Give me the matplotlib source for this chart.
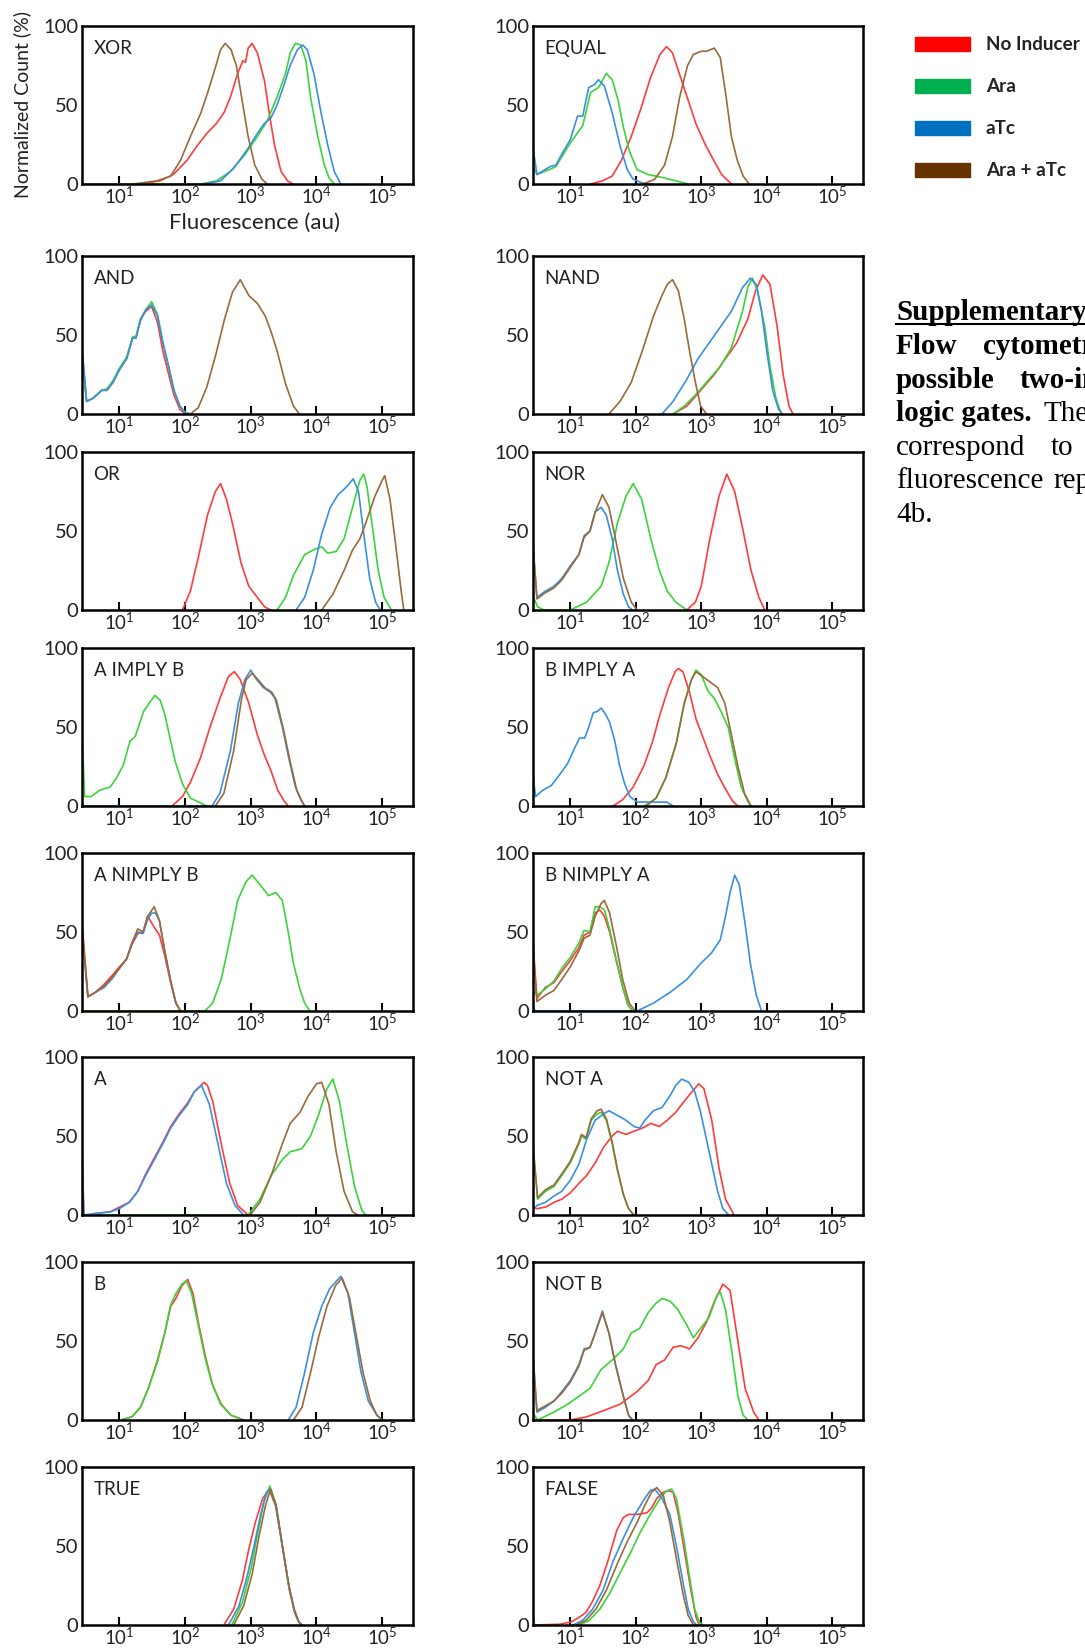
"""
Flow cytometry histograms for the 16 two-input logic gates.

Each panel shows four normalized count histograms (No Inducer, Ara, aTc,
Ara + aTc) against fluorescence on a log axis. Curve points are stored as
(log10 fluorescence, normalized count %) pairs read off the original figure.
"""

import matplotlib
matplotlib.use("Agg")
import matplotlib.pyplot as plt
from matplotlib.patches import Rectangle
from matplotlib.lines import Line2D
from matplotlib.ticker import FixedLocator, NullLocator

plt.rcParams["font.family"] = ["Lato", "DejaVu Sans"]
plt.rcParams["mathtext.fontset"] = "custom"
plt.rcParams["mathtext.rm"] = "Lato"
plt.rcParams["mathtext.it"] = "Lato:italic"
plt.rcParams["mathtext.bf"] = "Lato:bold"


# Data
SERIES_LABELS = ["No Inducer", "Ara", "aTc", "Ara + aTc"]
GATE_NAMES = ["XOR", "EQUAL", "AND", "NAND", "OR", "NOR",
              "A IMPLY B", "B IMPLY A", "A NIMPLY B", "B NIMPLY A",
              "A", "NOT A", "B", "NOT B", "TRUE", "FALSE"]
X_TICK_LABELS = [r"$\mathregular{10^{1}}$", r"$\mathregular{10^{2}}$", r"$\mathregular{10^{3}}$",
                 r"$\mathregular{10^{4}}$", r"$\mathregular{10^{5}}$"]
Y_TICK_LABELS = ["0", "50", "100"]

# (log10 fluorescence, count %)
XOR_NONE = [(1.32, 0), (1.62, 2), (1.82, 6), (2.03, 15), (2.18, 24), (2.33, 32), (2.47, 38),
            (2.59, 45), (2.69, 55), (2.80, 70), (2.88, 78), (2.92, 77), (2.96, 86), (3.02, 89),
            (3.10, 83), (3.21, 65), (3.28, 45), (3.36, 25), (3.46, 8), (3.56, 2), (3.64, 0)]
XOR_ARA = [(0.42, 2), (0.46, 0), (2.24, 0), (2.48, 2), (2.69, 8), (2.90, 18), (3.10, 30), (3.25, 40),
           (3.40, 55), (3.53, 70), (3.60, 83), (3.68, 89), (3.76, 88), (3.84, 78), (3.91, 55),
           (4.02, 30), (4.12, 12), (4.19, 4), (4.27, 0)]
XOR_ATC = [(2.29, 0), (2.54, 2), (2.74, 10), (2.95, 22), (3.10, 32), (3.20, 38), (3.31, 42),
           (3.40, 50), (3.50, 62), (3.60, 75), (3.71, 85), (3.79, 88), (3.86, 85), (3.96, 70),
           (4.07, 45), (4.17, 25), (4.27, 8), (4.37, 0)]
XOR_BOTH = [(1.21, 0), (1.57, 2), (1.78, 5), (1.93, 15), (2.08, 30), (2.24, 45), (2.36, 60),
            (2.47, 75), (2.54, 85), (2.61, 89), (2.70, 85), (2.78, 75), (2.86, 55), (2.96, 30),
            (3.06, 12), (3.17, 3), (3.25, 0)]

EQUAL_NONE = [(1.31, 0), (1.49, 2), (1.64, 5), (1.78, 15), (1.93, 30), (2.08, 48), (2.23, 68),
              (2.37, 82), (2.47, 87), (2.56, 83), (2.68, 68), (2.80, 53), (2.92, 38), (3.06, 25),
              (3.19, 15), (3.31, 6), (3.46, 0)]
EQUAL_ARA = [(0.42, 12), (0.49, 6), (0.61, 8), (0.78, 11), (1.00, 26), (1.19, 37), (1.31, 58),
             (1.43, 61), (1.55, 70), (1.64, 66), (1.73, 53), (1.81, 36), (1.90, 21), (2.02, 9),
             (2.19, 6), (2.42, 4), (2.66, 1.5), (2.80, 0)]
EQUAL_ATC = [(0.42, 26), (0.49, 6), (0.61, 9), (0.69, 11), (0.78, 12), (0.87, 19), (1.00, 28),
             (1.11, 43), (1.19, 43), (1.28, 61), (1.37, 63), (1.43, 66), (1.52, 62), (1.64, 45),
             (1.76, 24), (1.87, 9), (1.96, 3), (2.11, 0.5), (2.26, 0)]
EQUAL_BOTH = [(2.11, 0), (2.29, 3), (2.44, 12), (2.56, 30), (2.67, 55), (2.79, 75), (2.88, 82),
              (3.00, 84), (3.08, 84), (3.20, 86), (3.29, 80), (3.38, 55), (3.46, 30), (3.55, 15),
              (3.64, 5), (3.73, 0)]

AND_NONE = [(0.42, 45), (0.50, 8), (0.60, 10), (0.73, 15), (0.81, 15), (0.90, 20), (1.00, 28),
            (1.11, 35), (1.20, 48), (1.25, 48), (1.32, 60), (1.40, 65), (1.49, 68), (1.58, 58),
            (1.66, 40), (1.75, 25), (1.83, 12), (1.92, 3), (2.00, 0)]
AND_ARA = [(0.42, 40), (0.50, 8), (0.60, 10), (0.73, 15), (0.81, 16), (0.90, 21), (1.00, 29),
           (1.11, 36), (1.20, 49), (1.25, 49), (1.32, 60), (1.40, 66), (1.49, 71), (1.58, 63),
           (1.66, 46), (1.75, 30), (1.83, 15), (1.92, 5), (2.00, 1), (2.08, 0)]
AND_ATC = [(0.42, 47), (0.50, 8), (0.60, 10), (0.73, 15), (0.81, 15), (0.90, 20), (1.00, 28),
           (1.11, 35), (1.20, 48), (1.25, 48), (1.32, 59), (1.40, 66), (1.49, 69), (1.58, 62),
           (1.66, 45), (1.75, 30), (1.83, 15), (1.92, 5), (2.00, 1), (2.08, 0)]
AND_BOTH = [(2.08, 0), (2.20, 4), (2.33, 17), (2.47, 38), (2.60, 60), (2.72, 77), (2.84, 85),
            (2.97, 75), (3.10, 70), (3.22, 62), (3.31, 52), (3.40, 40), (3.53, 19), (3.65, 5),
            (3.74, 0)]

NAND_NONE = [(2.57, 0), (2.78, 5), (2.99, 15), (3.20, 25), (3.37, 35), (3.54, 45), (3.71, 60),
             (3.83, 78), (3.94, 88), (4.05, 82), (4.16, 55), (4.25, 25), (4.34, 5), (4.40, 0)]
NAND_ARA = [(2.57, 0), (2.74, 5), (2.91, 12), (3.12, 22), (3.29, 30), (3.46, 42), (3.63, 65),
            (3.71, 80), (3.78, 86), (3.86, 78), (3.97, 55), (4.05, 30), (4.14, 10), (4.22, 0)]
NAND_ATC = [(2.40, 0), (2.57, 8), (2.78, 22), (2.95, 35), (3.12, 45), (3.29, 55), (3.46, 65),
            (3.63, 80), (3.75, 86), (3.84, 82), (3.92, 65), (4.00, 40), (4.09, 15), (4.18, 3),
            (4.24, 0)]
NAND_BOTH = [(1.59, 0), (1.76, 8), (1.93, 20), (2.10, 40), (2.27, 62), (2.40, 75), (2.48, 82),
             (2.56, 85), (2.65, 78), (2.74, 60), (2.82, 40), (2.91, 20), (2.99, 5), (3.08, 0)]

OR_NONE = [(1.96, 0), (2.08, 12), (2.21, 35), (2.34, 60), (2.46, 75), (2.54, 80), (2.63, 70),
           (2.72, 55), (2.85, 30), (2.97, 15), (3.10, 8), (3.21, 2), (3.30, 0)]
OR_ARA = [(3.40, 0), (3.53, 8), (3.65, 22), (3.82, 35), (3.95, 38), (4.08, 40), (4.17, 36),
          (4.30, 37), (4.42, 45), (4.55, 65), (4.66, 82), (4.72, 86), (4.77, 78), (4.86, 50),
          (4.94, 25), (5.03, 8), (5.14, 0)]
OR_ATC = [(3.69, 0), (3.82, 8), (3.95, 25), (4.08, 48), (4.21, 65), (4.33, 73), (4.46, 78),
          (4.56, 83), (4.64, 75), (4.73, 45), (4.81, 20), (4.90, 5), (4.97, 0)]
OR_BOTH = [(4.08, 0), (4.25, 10), (4.42, 25), (4.55, 38), (4.66, 45), (4.75, 55), (4.89, 72),
           (5.00, 82), (5.04, 85), (5.12, 70), (5.21, 40), (5.29, 12), (5.33, 0)]

NOR_NONE = [(2.78, 0), (2.91, 5), (3.00, 15), (3.13, 45), (3.27, 72), (3.39, 86), (3.51, 75),
            (3.64, 50), (3.76, 25), (3.88, 8), (3.97, 0)]
NOR_ARA = [(0.42, 10), (0.50, 2), (0.60, 0), (1.00, 0), (1.25, 5), (1.47, 15), (1.59, 30),
           (1.72, 55), (1.85, 72), (1.96, 80), (2.09, 70), (2.23, 45), (2.36, 25), (2.48, 12),
           (2.61, 5), (2.78, 0)]
NOR_ATC = [(0.42, 45), (0.49, 8), (0.62, 12), (0.75, 15), (0.87, 20), (1.00, 28), (1.13, 35),
           (1.21, 47), (1.30, 50), (1.38, 62), (1.47, 65), (1.55, 60), (1.64, 45), (1.72, 25),
           (1.81, 10), (1.89, 2), (1.95, 0)]
NOR_BOTH = [(0.42, 48), (0.49, 7), (0.62, 11), (0.75, 14), (0.87, 19), (1.00, 27), (1.13, 35),
            (1.21, 46), (1.30, 50), (1.38, 62), (1.49, 73), (1.59, 65), (1.69, 45), (1.81, 20),
            (1.93, 5), (2.02, 0)]

AIB_NONE = [(1.80, 0), (1.96, 6), (2.08, 15), (2.23, 30), (2.38, 50), (2.53, 68), (2.66, 82),
            (2.75, 85), (2.84, 80), (2.97, 65), (3.10, 45), (3.20, 33), (3.31, 22), (3.41, 10),
            (3.51, 3), (3.57, 0)]
AIB_ARA = [(0.42, 58), (0.47, 6), (0.57, 6), (0.70, 10), (0.86, 12), (0.96, 18), (1.06, 26),
           (1.16, 41), (1.24, 44), (1.37, 60), (1.47, 66), (1.54, 70), (1.62, 67), (1.69, 58),
           (1.77, 43), (1.85, 28), (1.96, 14), (2.08, 5), (2.23, 2), (2.33, 0)]
AIB_ATC = [(0.42, 4), (0.46, 0), (2.41, 0), (2.53, 8), (2.69, 35), (2.81, 65), (2.91, 80),
           (3.00, 86), (3.09, 80), (3.19, 75), (3.30, 72), (3.37, 68), (3.48, 50), (3.58, 30),
           (3.68, 12), (3.76, 4), (3.82, 0)]
AIB_BOTH = [(2.46, 0), (2.59, 8), (2.74, 35), (2.86, 68), (2.93, 80), (3.02, 84), (3.11, 80),
            (3.21, 75), (3.32, 72), (3.39, 67), (3.50, 48), (3.60, 28), (3.70, 10), (3.78, 3),
            (3.82, 0)]

BIA_NONE = [(1.65, 0), (1.80, 4), (1.96, 12), (2.12, 25), (2.25, 40), (2.37, 58), (2.50, 75),
            (2.60, 85), (2.65, 87), (2.72, 85), (2.82, 72), (2.92, 55), (3.03, 43), (3.13, 32),
            (3.25, 20), (3.38, 10), (3.48, 3), (3.56, 0)]
BIA_ARA = [(2.13, 0), (2.31, 5), (2.46, 18), (2.62, 40), (2.74, 65), (2.85, 80), (2.92, 86),
           (3.00, 83), (3.10, 73), (3.20, 68), (3.30, 60), (3.41, 50), (3.51, 30), (3.61, 12),
           (3.71, 3), (3.76, 0)]
BIA_ATC = [(0.42, 22), (0.47, 6), (0.58, 10), (0.71, 13), (0.84, 20), (0.96, 27), (1.07, 37),
           (1.14, 43), (1.22, 43), (1.29, 51), (1.35, 59), (1.42, 60), (1.47, 62), (1.54, 58),
           (1.60, 53), (1.68, 41), (1.75, 26), (1.83, 14), (1.91, 6), (2.02, 2.5), (2.22, 2.5),
           (2.47, 2.5), (2.57, 0)]
BIA_BOTH = [(2.16, 0), (2.31, 5), (2.46, 18), (2.62, 40), (2.74, 65), (2.85, 80), (2.92, 85),
            (3.02, 82), (3.15, 78), (3.25, 75), (3.36, 65), (3.46, 45), (3.56, 25), (3.66, 8),
            (3.76, 0)]

ANB_NONE = [(0.42, 62), (0.52, 9), (0.64, 12), (0.77, 17), (0.90, 23), (1.00, 28), (1.11, 33),
            (1.19, 42), (1.28, 49), (1.36, 50), (1.43, 60), (1.53, 53), (1.61, 48), (1.69, 35),
            (1.78, 18), (1.86, 5), (1.93, 0)]
ANB_ARA = [(0.42, 5), (0.45, 0), (2.30, 0), (2.42, 5), (2.55, 20), (2.68, 45), (2.80, 70),
           (2.93, 82), (3.02, 86), (3.14, 80), (3.27, 73), (3.38, 75), (3.48, 70), (3.57, 50),
           (3.65, 30), (3.74, 15), (3.82, 5), (3.90, 0)]
ANB_ATC = [(0.42, 55), (0.52, 9), (0.64, 12), (0.77, 15), (0.90, 21), (1.00, 27), (1.11, 33),
           (1.19, 43), (1.28, 50), (1.36, 49), (1.43, 58), (1.49, 62), (1.55, 62), (1.61, 57),
           (1.69, 38), (1.78, 19), (1.86, 5), (1.93, 0)]
ANB_BOTH = [(0.42, 58), (0.52, 9), (0.64, 12), (0.77, 16), (0.90, 22), (1.00, 27), (1.11, 33),
            (1.19, 43), (1.28, 52), (1.36, 50), (1.43, 60), (1.53, 66), (1.61, 57), (1.69, 38),
            (1.78, 19), (1.86, 5), (1.93, 0)]

BNA_NONE = [(0.42, 50), (0.49, 8), (0.62, 15), (0.75, 18), (0.87, 25), (1.00, 32), (1.13, 40),
            (1.21, 48), (1.30, 50), (1.38, 62), (1.45, 64), (1.52, 60), (1.60, 50), (1.70, 32),
            (1.80, 15), (1.88, 4), (1.95, 0)]
BNA_ARA = [(0.42, 15), (0.49, 10), (0.62, 14), (0.75, 19), (0.87, 27), (1.00, 34), (1.13, 43),
           (1.21, 51), (1.30, 50), (1.38, 66), (1.45, 66), (1.52, 64), (1.60, 52), (1.70, 33),
           (1.80, 15), (1.88, 4), (1.95, 0)]
BNA_ATC = [(0.42, 5), (0.46, 0), (2.02, 0), (2.27, 5), (2.53, 12), (2.78, 20), (2.99, 30),
           (3.16, 37), (3.29, 45), (3.37, 60), (3.44, 75), (3.51, 86), (3.58, 80), (3.67, 55),
           (3.75, 30), (3.84, 10), (3.92, 0)]
BNA_BOTH = [(0.42, 45), (0.49, 6), (0.62, 10), (0.75, 13), (0.87, 20), (1.00, 28), (1.13, 38),
            (1.21, 46), (1.30, 48), (1.38, 60), (1.47, 68), (1.52, 70), (1.60, 62), (1.70, 42),
            (1.80, 20), (1.90, 5), (1.99, 0)]

A_NONE = [(0.42, 58), (0.46, 0), (0.55, 0), (0.64, 1), (0.86, 2), (1.00, 5), (1.15, 8),
          (1.28, 15), (1.40, 26), (1.53, 36), (1.66, 46), (1.78, 56), (1.91, 64), (2.04, 71),
          (2.14, 78), (2.29, 84), (2.34, 82), (2.42, 72), (2.55, 45), (2.68, 20), (2.80, 6),
          (2.96, 0)]
A_ARA = [(0.42, 10), (0.45, 0), (2.96, 0), (3.14, 10), (3.31, 25), (3.48, 35), (3.60, 40),
         (3.78, 42), (3.91, 50), (4.03, 63), (4.16, 80), (4.25, 86), (4.35, 72), (4.46, 45),
         (4.58, 18), (4.69, 3), (4.75, 0)]
A_ATC = [(0.42, 35), (0.46, 0), (0.64, 1), (0.86, 2), (1.00, 4), (1.15, 8), (1.28, 15),
         (1.40, 25), (1.53, 35), (1.66, 45), (1.78, 55), (1.91, 63), (2.04, 70), (2.14, 78),
         (2.25, 82), (2.37, 70), (2.50, 45), (2.63, 20), (2.76, 6), (2.89, 0)]
A_BOTH = [(2.99, 0), (3.14, 8), (3.31, 25), (3.48, 45), (3.60, 58), (3.75, 65), (3.87, 75),
          (4.00, 83), (4.08, 84), (4.19, 70), (4.30, 40), (4.42, 15), (4.55, 2), (4.63, 0)]

NA_NONE = [(0.42, 5), (0.49, 4), (0.62, 5), (0.75, 8), (0.87, 10), (1.00, 14), (1.13, 20),
           (1.25, 25), (1.38, 33), (1.51, 43), (1.64, 50), (1.72, 53), (1.85, 51), (1.97, 53),
           (2.10, 55), (2.23, 58), (2.36, 56), (2.48, 60), (2.61, 65), (2.74, 72), (2.86, 78),
           (2.96, 83), (3.04, 80), (3.16, 60), (3.27, 30), (3.37, 10), (3.50, 0)]
NA_ARA = [(0.42, 50), (0.50, 10), (0.62, 15), (0.75, 18), (0.87, 25), (1.00, 33), (1.13, 45),
          (1.17, 50), (1.24, 48), (1.32, 60), (1.41, 64), (1.47, 65), (1.55, 60), (1.64, 45),
          (1.72, 28), (1.81, 13), (1.89, 4), (1.97, 0)]
NA_ATC = [(0.42, 3), (0.49, 6), (0.62, 8), (0.75, 12), (0.87, 15), (1.00, 22), (1.13, 32),
          (1.25, 48), (1.38, 60), (1.51, 64), (1.59, 66), (1.72, 63), (1.85, 60), (1.97, 56),
          (2.06, 55), (2.14, 60), (2.27, 66), (2.40, 68), (2.53, 76), (2.61, 82), (2.70, 86),
          (2.81, 84), (2.90, 78), (2.99, 65), (3.12, 40), (3.25, 15), (3.33, 4), (3.42, 0)]
NA_BOTH = [(0.42, 48), (0.50, 11), (0.62, 16), (0.75, 19), (0.87, 26), (1.00, 34), (1.13, 46),
           (1.17, 51), (1.24, 49), (1.32, 61), (1.41, 66), (1.47, 67), (1.55, 61), (1.64, 46),
           (1.72, 29), (1.81, 13), (1.89, 4), (1.97, 0)]

B_NONE = [(1.03, 0), (1.19, 2), (1.32, 8), (1.44, 20), (1.58, 38), (1.69, 55), (1.78, 72),
          (1.86, 77), (1.95, 85), (2.04, 89), (2.12, 80), (2.21, 60), (2.31, 40), (2.42, 22),
          (2.55, 10), (2.70, 3), (2.89, 0)]
B_ARA = [(1.03, 0), (1.19, 2), (1.32, 8), (1.44, 20), (1.58, 37), (1.69, 55), (1.78, 73),
         (1.86, 80), (1.95, 86), (2.02, 88), (2.10, 80), (2.20, 60), (2.30, 40), (2.41, 23),
         (2.54, 10), (2.70, 3), (2.89, 0)]
B_ATC = [(3.57, 0), (3.69, 8), (3.82, 30), (3.95, 55), (4.08, 72), (4.20, 83), (4.37, 91),
         (4.48, 80), (4.58, 55), (4.68, 30), (4.79, 12), (4.92, 3), (5.00, 0)]
B_BOTH = [(3.65, 0), (3.78, 8), (3.91, 30), (4.03, 52), (4.16, 72), (4.29, 85), (4.39, 90),
          (4.50, 78), (4.60, 55), (4.71, 30), (4.82, 12), (4.92, 3), (5.00, 0)]

NB_NONE = [(0.42, 3), (0.46, 0), (1.00, 0), (1.25, 2), (1.51, 6), (1.76, 10), (2.02, 18),
           (2.19, 25), (2.31, 35), (2.44, 38), (2.57, 46), (2.69, 47), (2.82, 45), (2.95, 52),
           (3.08, 62), (3.20, 75), (3.33, 86), (3.44, 82), (3.54, 55), (3.67, 20), (3.80, 5),
           (3.88, 0)]
NB_ARA = [(0.42, 5), (0.50, 0), (0.75, 5), (0.96, 10), (1.13, 15), (1.30, 20), (1.47, 32),
          (1.64, 38), (1.81, 45), (1.93, 55), (2.06, 58), (2.19, 68), (2.31, 74), (2.40, 77),
          (2.53, 75), (2.64, 70), (2.78, 60), (2.88, 52), (2.99, 58), (3.12, 65), (3.24, 79),
          (3.29, 81), (3.37, 70), (3.46, 45), (3.56, 15), (3.64, 3), (3.71, 0)]
NB_ATC = [(0.42, 48), (0.49, 5), (0.62, 8), (0.75, 12), (0.87, 18), (1.00, 25), (1.13, 35),
          (1.21, 45), (1.30, 46), (1.38, 55), (1.49, 69), (1.59, 55), (1.69, 35), (1.81, 15),
          (1.89, 3), (1.95, 0)]
NB_BOTH = [(0.42, 45), (0.49, 6), (0.62, 9), (0.75, 12), (0.87, 17), (1.00, 24), (1.13, 34),
           (1.21, 44), (1.30, 46), (1.38, 55), (1.49, 68), (1.59, 55), (1.69, 35), (1.81, 15),
           (1.89, 3), (1.95, 0)]

TRUE_NONE = [(2.59, 0), (2.74, 10), (2.87, 28), (2.97, 48), (3.07, 65), (3.18, 80), (3.28, 86),
             (3.38, 75), (3.48, 50), (3.58, 25), (3.66, 10), (3.73, 2), (3.78, 0)]
TRUE_ARA = [(2.71, 0), (2.87, 14), (3.00, 35), (3.10, 57), (3.20, 78), (3.29, 88), (3.38, 77),
            (3.48, 50), (3.58, 24), (3.66, 9), (3.73, 2), (3.78, 0)]
TRUE_ATC = [(2.66, 0), (2.82, 12), (2.94, 30), (3.05, 50), (3.15, 70), (3.24, 84), (3.29, 86),
            (3.38, 76), (3.48, 50), (3.58, 25), (3.66, 10), (3.73, 2), (3.78, 0)]
TRUE_BOTH = [(2.74, 0), (2.89, 12), (3.02, 32), (3.12, 55), (3.22, 75), (3.30, 86), (3.39, 75),
             (3.49, 48), (3.59, 22), (3.67, 8), (3.73, 2), (3.78, 0)]

FALSE_NONE = [(0.42, 13), (0.45, 0), (0.84, 0.5), (1.02, 2), (1.14, 5), (1.24, 8), (1.34, 15),
              (1.45, 25), (1.57, 40), (1.71, 60), (1.81, 68), (1.89, 70), (2.02, 70), (2.17, 71),
              (2.24, 74), (2.32, 80), (2.42, 84), (2.50, 85), (2.57, 84), (2.65, 70), (2.75, 45),
              (2.85, 20), (2.92, 5), (2.97, 0)]
FALSE_ARA = [(1.14, 0), (1.29, 3), (1.45, 10), (1.60, 20), (1.76, 33), (1.91, 45), (2.06, 58),
             (2.22, 70), (2.37, 80), (2.47, 85), (2.55, 86), (2.62, 80), (2.73, 55), (2.83, 28),
             (2.90, 10), (2.97, 2), (3.02, 0)]
FALSE_ATC = [(1.04, 0), (1.19, 3), (1.34, 10), (1.50, 22), (1.65, 40), (1.81, 55), (1.96, 68),
             (2.12, 79), (2.22, 85), (2.29, 86), (2.40, 80), (2.52, 70), (2.62, 50), (2.73, 25),
             (2.80, 10), (2.88, 2), (2.93, 0)]
FALSE_BOTH = [(1.09, 0), (1.24, 3), (1.39, 10), (1.55, 22), (1.71, 38), (1.86, 52), (2.02, 65),
              (2.14, 76), (2.24, 84), (2.32, 87), (2.42, 82), (2.52, 65), (2.62, 42), (2.73, 18),
              (2.80, 6), (2.88, 0)]

# table of curves per gate, in legend order
CURVES = {
    "XOR": (XOR_NONE, XOR_ARA, XOR_ATC, XOR_BOTH),
    "EQUAL": (EQUAL_NONE, EQUAL_ARA, EQUAL_ATC, EQUAL_BOTH),
    "AND": (AND_NONE, AND_ARA, AND_ATC, AND_BOTH),
    "NAND": (NAND_NONE, NAND_ARA, NAND_ATC, NAND_BOTH),
    "OR": (OR_NONE, OR_ARA, OR_ATC, OR_BOTH),
    "NOR": (NOR_NONE, NOR_ARA, NOR_ATC, NOR_BOTH),
    "A IMPLY B": (AIB_NONE, AIB_ARA, AIB_ATC, AIB_BOTH),
    "B IMPLY A": (BIA_NONE, BIA_ARA, BIA_ATC, BIA_BOTH),
    "A NIMPLY B": (ANB_NONE, ANB_ARA, ANB_ATC, ANB_BOTH),
    "B NIMPLY A": (BNA_NONE, BNA_ARA, BNA_ATC, BNA_BOTH),
    "A": (A_NONE, A_ARA, A_ATC, A_BOTH),
    "NOT A": (NA_NONE, NA_ARA, NA_ATC, NA_BOTH),
    "B": (B_NONE, B_ARA, B_ATC, B_BOTH),
    "NOT B": (NB_NONE, NB_ARA, NB_ATC, NB_BOTH),
    "TRUE": (TRUE_NONE, TRUE_ARA, TRUE_ATC, TRUE_BOTH),
    "FALSE": (FALSE_NONE, FALSE_ARA, FALSE_ATC, FALSE_BOTH),
}

# caption words, one list per line (bold flag, word)
CAPTION_LINES = [
    [(True, "Supplementary")],
    [(True, "Flow"), (True, "cytometry")],
    [(True, "possible"), (True, "two-input")],
    [(True, "logic gates."), (False, "The")],
    [(False, "correspond"), (False, "to")],
    [(False, "fluorescence"), (False, "reported")],
    [(False, "4b.")],
]


# Styling / layout (pixels on the 1085 x 1648 canvas)
W, H, DPI = 1085, 1648, 100
CURVE_COLORS = ["#ff3b3b", "#3ad43a", "#3a8fe0", "#9a6a3a"]
LEGEND_COLORS = ["#ff0000", "#00b050", "#0070c0", "#663300"]
COL_X = [(82, 413), (533, 863)]
ROW_TOPS = [26, 256, 452, 648, 853, 1057, 1262, 1467]
PANEL_H = 158
LOG_XLIM = (0.43, 5.47)
TEXT_COLOR = "#222222"
CAPTION_X = [[896], [896, 983], [896, 1020], [896, 1044], [896, 1051], [896, 1053], [896]]
CAPTION_BASELINES = [320, 354, 388, 421, 455, 488, 522]


def fig_rect(x0, top, w, h):
    """Convert a pixel box (top-left origin) to figure fractions."""
    return [x0 / W, 1 - (top + h) / H, w / W, h / H]


def draw_panel(fig, name, col, row):
    """Draw one gate histogram panel."""
    x0, x1 = COL_X[col]
    ax = fig.add_axes(fig_rect(x0, ROW_TOPS[row], x1 - x0, PANEL_H))

    for curve, color in zip(CURVES[name], CURVE_COLORS):
        xs = [10 ** p[0] for p in curve]
        ys = [p[1] for p in curve]
        ax.plot(xs, ys, color=color, lw=1.2, solid_joinstyle="round")

    ax.set_xscale("log")
    ax.set_xlim(10 ** LOG_XLIM[0], 10 ** LOG_XLIM[1])
    ax.set_ylim(0, 100)

    ax.xaxis.set_major_locator(FixedLocator([1e1, 1e2, 1e3, 1e4, 1e5]))
    ax.xaxis.set_minor_locator(NullLocator())
    ax.set_xticklabels(X_TICK_LABELS)
    ax.tick_params(axis="x", direction="in", length=6, width=1.5,
                   labelsize=13.5, pad=1.5, colors="black", labelcolor=TEXT_COLOR)

    ax.set_yticks([0, 50, 100])
    ax.set_yticklabels(Y_TICK_LABELS)
    ax.tick_params(axis="y", length=0, labelsize=14.5, pad=2.5, labelcolor=TEXT_COLOR)
    ax.set_yticks([50], minor=True)
    ax.tick_params(axis="y", which="minor", direction="out", length=5, width=1.8)

    for sp in ax.spines.values():
        sp.set_linewidth(1.8)
        sp.set_color("black")

    ax.text(0.035, 0.86, name, transform=ax.transAxes, fontsize=13.5,
            va="center", ha="left", color=TEXT_COLOR)
    return ax


def draw_legend(fig):
    """Colour swatches with labels at the top right."""
    for i, (label, color) in enumerate(zip(SERIES_LABELS, LEGEND_COLORS)):
        cy = 44 + 42 * i
        fig.patches.append(Rectangle((915 / W, 1 - (cy + 7) / H), 55 / W, 14 / H,
                                     transform=fig.transFigure, color=color))
        fig.text(986 / W, 1 - cy / H, label, fontsize=13.6, fontweight="bold",
                 va="center", ha="left", color=TEXT_COLOR)


def draw_caption(fig):
    """Justified caption on the right, running off the page edge."""
    serif = ["Liberation Serif", "DejaVu Serif"]
    for words, xs, base in zip(CAPTION_LINES, CAPTION_X, CAPTION_BASELINES):
        for (bold, word), x in zip(words, xs):
            fig.text(x / W, 1 - base / H, word, family=serif, fontsize=21,
                     fontweight="bold" if bold else "normal", va="baseline",
                     color="black")
    # underline of the caption heading
    fig.add_artist(Line2D([896 / W, 1.0], [1 - 324 / H] * 2, color="black", lw=1.5,
                          transform=fig.transFigure))


def plot_all():
    """Build the full figure and save it."""
    fig = plt.figure(figsize=(W / DPI, H / DPI), dpi=DPI)

    axes = []
    for i, name in enumerate(GATE_NAMES):
        axes.append(draw_panel(fig, name, i % 2, i // 2))

    # axis titles only on the first panel
    axes[0].set_ylabel("Normalized Count (%)", fontsize=14, color=TEXT_COLOR)
    axes[0].yaxis.set_label_coords(-0.155, 0.5)
    axes[0].set_xlabel("Fluorescence (au)", fontsize=16, color=TEXT_COLOR)
    axes[0].xaxis.set_label_coords(0.52, -0.185)

    draw_legend(fig)
    draw_caption(fig)

    fig.savefig("out.png", dpi=DPI)


if __name__ == "__main__":
    plot_all()
